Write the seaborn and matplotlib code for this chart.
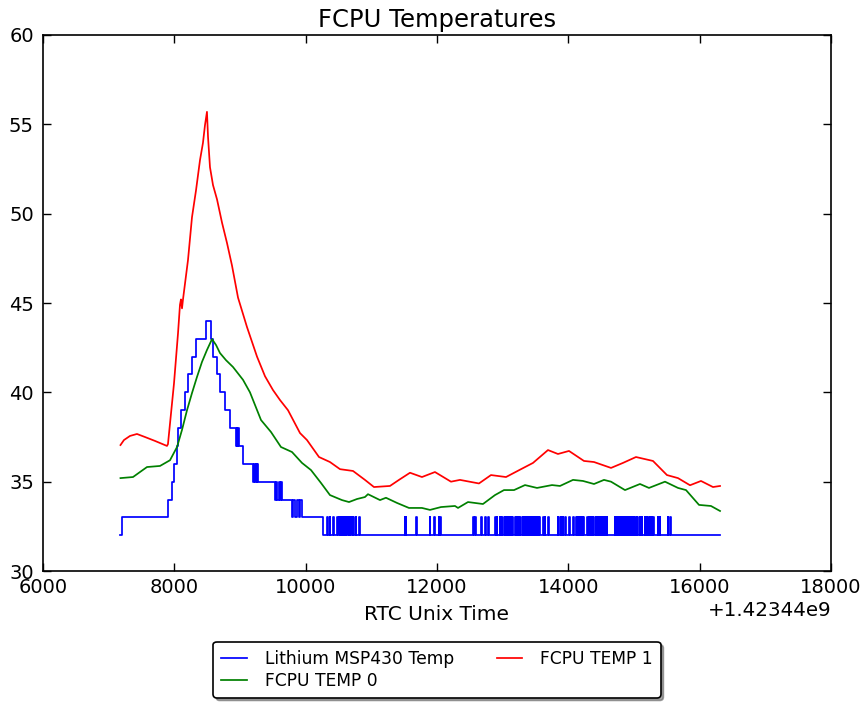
import matplotlib
matplotlib.use("Agg")
import matplotlib.pyplot as plt
import seaborn as sns
from matplotlib.ticker import ScalarFormatter, MultipleLocator

T0 = 1423440000  # time offset shown on the axis

# FCPU TEMP 1 (red)
red_t = [7180, 7233, 7325, 7431, 7553, 7706, 7888, 7903, 7995, 8056,
         8086, 8101, 8117, 8132, 8208, 8269, 8330, 8391, 8436, 8467,
         8497, 8513, 8543, 8589, 8650, 8726, 8802, 8878, 8970, 9106,
         9259, 9381, 9502, 9609, 9731, 9914, 10020, 10203, 10370, 10523,
         10721, 10903, 11040, 11284, 11421, 11589, 11771, 11969, 12213, 12350,
         12639, 12822, 13051, 13279, 13462, 13690, 13842, 14010, 14238, 14391,
         14650, 14832, 15030, 15289, 15502, 15670, 15853, 16020, 16203, 16310]
red_v = [37.05, 37.33, 37.56, 37.67, 37.5, 37.28, 37.0, 37.1, 40.5, 43.3,
         44.9, 45.2, 44.7, 45.2, 47.4, 49.8, 51.3, 53.0, 53.96, 54.96,
         55.7, 54.3, 52.6, 51.6, 50.8, 49.5, 48.36, 47.1, 45.3, 43.66,
         42.0, 40.9, 40.13, 39.57, 39.0, 37.72, 37.33, 36.38, 36.1, 35.7,
         35.6, 35.1, 34.7, 34.76, 35.1, 35.5, 35.26, 35.54, 35.0, 35.1,
         34.9, 35.37, 35.26, 35.7, 36.05, 36.77, 36.55, 36.72, 36.16, 36.1,
         35.77, 36.05, 36.38, 36.16, 35.37, 35.2, 34.8, 35.04, 34.7, 34.76]

# FCPU TEMP 0 (green)
green_t = [7180, 7371, 7477, 7584, 7782, 7934, 8041, 8117, 8193, 8269,
           8345, 8421, 8497, 8574, 8635, 8695, 8787, 8893, 9046, 9152,
           9320, 9472, 9624, 9792, 9944, 10081, 10233, 10370, 10553, 10660,
           10782, 10903, 10949, 11132, 11223, 11391, 11573, 11771, 11893, 12061,
           12274, 12320, 12472, 12700, 12883, 13020, 13173, 13340, 13523, 13751,
           13873, 14071, 14223, 14391, 14543, 14650, 14863, 15091, 15228, 15472,
           15670, 15792, 15990, 16172, 16310]
green_v = [35.2, 35.26, 35.54, 35.82, 35.88, 36.2, 36.94, 37.9, 39.0, 39.96,
           40.86, 41.7, 42.37, 42.98, 42.65, 42.2, 41.8, 41.42, 40.7, 40.0,
           38.45, 37.78, 36.94, 36.66, 36.05, 35.65, 34.93, 34.25, 33.97, 33.86,
           34.03, 34.14, 34.3, 33.97, 34.1, 33.81, 33.53, 33.53, 33.42, 33.58,
           33.64, 33.53, 33.86, 33.75, 34.25, 34.53, 34.53, 34.81, 34.65, 34.81,
           34.76, 35.1, 35.04, 34.87, 35.1, 35.0, 34.53, 34.87, 34.65, 35.0,
           34.65, 34.53, 33.7, 33.64, 33.36]

# Lithium MSP430 Temp (blue): integer steps (change points)
blue_step_t = [7180, 7200, 7903, 7964, 7995, 8041, 8063, 8101, 8162, 8208,
               8269, 8330, 8482, 8558, 8596, 8645, 8695, 8771, 8848, 8939,
               8950, 8962, 8970, 8985, 9053, 9198, 9212, 9228, 9240, 9256,
               9264, 9274, 9533, 9548, 9566, 9592, 9610, 9622, 9640, 9792,
               9806, 9835, 9866, 9900, 9912, 9944]
blue_step_v = [32, 33, 34, 35, 36, 37, 38, 39, 40, 41,
               42, 43, 44, 43, 42, 41, 40, 39, 38, 37,
               38, 37, 38, 37, 36, 35, 36, 35, 36, 35,
               36, 35, 34, 35, 34, 35, 34, 35, 34, 33,
               34, 33, 34, 33, 34, 33]
# single-sample readings of 33 on the 32 baseline (sample start times)
blue_spike_t = [10249, 10325, 10370, 10416, 10477, 10492, 10508, 10523, 10538,
                10568, 10584, 10599, 10614, 10629, 10645, 10660, 10675, 10690, 10706, 10721,
                10766, 10812, 10827,
                11512, 11527, 11680, 11893, 11954, 12030, 12046,
                12548, 12563, 12579, 12670, 12731, 12777, 12883, 12898, 12913,
                12959, 12974, 12990,
                13035, 13051, 13066, 13081, 13096, 13111, 13127, 13142,
                13188, 13203, 13218, 13233, 13248, 13264,
                13309, 13324, 13340, 13355, 13370, 13385, 13401, 13416, 13431, 13446,
                13462, 13477, 13492, 13507, 13522, 13538, 13553, 13568,
                13614, 13629, 13644, 13690,
                13842, 13873, 13888, 13918, 13949, 14010, 14071,
                14117, 14132, 14147, 14177, 14193, 14208, 14223,
                14284, 14299, 14314, 14330, 14345, 14360, 14375,
                14406, 14421, 14436, 14451, 14467, 14482,
                14512, 14528, 14543, 14558, 14588,
                14710, 14726, 14741, 14756, 14771, 14786, 14802, 14817, 14832, 14847,
                14863, 14878, 14893, 14908, 14923, 14939, 14954, 14969, 14984, 14999,
                15015, 15030, 15045,
                15076, 15091, 15106, 15121,
                15167, 15182, 15197, 15213, 15228, 15243, 15258, 15273, 15289,
                15365, 15380, 15395, 15517, 15548, 15563]
blue_sample_len = 8
blue_end_t = 16310

labels = ["Lithium MSP430 Temp", "FCPU TEMP 0", "FCPU TEMP 1"]
colors = ["#0000ff", "#008000", "#ff0000"]

# assemble blue change-point series
bt = list(blue_step_t)
bv = list(blue_step_v)
for s in blue_spike_t:
    bt += [s, s + blue_sample_len]
    bv += [33, 32]
bt.append(blue_end_t)
bv.append(32)

plt.rcParams["font.family"] = ["DejaVu Sans"]
plt.rcParams["axes.linewidth"] = 1.2

fig = plt.figure(figsize=(8.65, 7.04), dpi=100)
fig.patch.set_facecolor("white")
ax = fig.add_axes([0.0497, 0.1889, 0.911, 0.7614])

sns.lineplot(x=[T0 + t for t in bt], y=bv, ax=ax, color=colors[0], label=labels[0],
             estimator=None, sort=False, drawstyle="steps-post", linewidth=1.25)
sns.lineplot(x=[T0 + t for t in green_t], y=green_v, ax=ax, color=colors[1], label=labels[1],
             estimator=None, sort=False, linewidth=1.25)
sns.lineplot(x=[T0 + t for t in red_t], y=red_v, ax=ax, color=colors[2], label=labels[2],
             estimator=None, sort=False, linewidth=1.25)

ax.set_xlim(T0 + 6000, T0 + 18000)
ax.set_ylim(30, 60)
ax.xaxis.set_major_locator(MultipleLocator(2000))
ax.yaxis.set_major_locator(MultipleLocator(5))
ax.xaxis.set_major_formatter(ScalarFormatter(useOffset=T0))
ax.xaxis.get_offset_text().set_fontsize(14.3)

ax.tick_params(direction="in", top=True, right=True, length=6, width=1,
               labelsize=14, pad=5)
ax.tick_params(axis="y", pad=6.5)
for sp in ax.spines.values():
    sp.set_color("black")
    sp.set_linewidth(1.2)

ax.set_title("FCPU Temperatures", fontsize=17.5, pad=6)
ax.set_xlabel("RTC Unix Time", fontsize=14.5, labelpad=6)
ax.set_ylabel("")

leg = ax.legend(loc="upper center", bbox_to_anchor=(0.5, -0.1325), ncol=2,
                fontsize=12.3, shadow=True, fancybox=True, framealpha=1,
                edgecolor="black", borderaxespad=0, handlelength=1.5,
                handletextpad=1.05, columnspacing=2.5, borderpad=0.45,
                labelspacing=0.25)
leg.get_frame().set_linewidth(1.2)

fig.savefig("out.png", dpi=100, facecolor="white")
